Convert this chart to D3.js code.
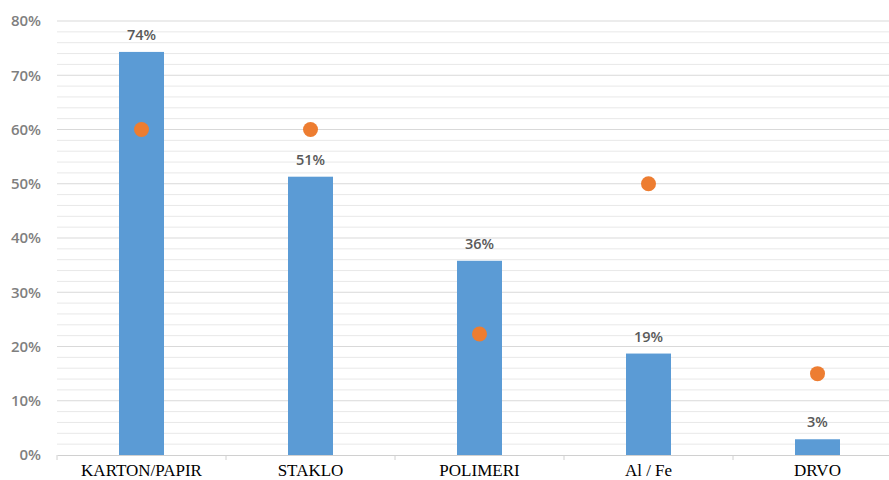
<!DOCTYPE html>
<html><head><meta charset="utf-8">
<script src="https://cdn.jsdelivr.net/npm/d3@7"></script>
<style>body{margin:0;background:#fff;}svg{display:block;}</style>
</head><body>
<svg id="c" width="889" height="480"></svg>
<script>
const categories = ["KARTON/PAPIR", "STAKLO", "POLIMERI", "Al / Fe", "DRVO"];
const barValues = [74.3, 51.3, 35.8, 18.7, 2.9];
const barLabels = ["74%", "51%", "36%", "19%", "3%"];
const dotValues = [60, 60, 22.3, 50, 15];
const yTicks = [0, 10, 20, 30, 40, 50, 60, 70, 80];

const svg = d3.select("#c");
const plotLeft = 57, plotRight = 902, plotTop = 21, plotBottom = 455;
const x = d3.scaleBand().domain(categories).range([plotLeft, plotRight]).paddingInner(0).paddingOuter(0);
const y = d3.scaleLinear().domain([0, 80]).range([plotBottom, plotTop]);

// minor gridlines
const minor = d3.range(0, 81, 2).filter(v => v % 10 !== 0);
svg.append("g").selectAll("line").data(minor).join("line")
  .attr("x1", plotLeft).attr("x2", plotRight).attr("y1", d => y(d)).attr("y2", d => y(d))
  .attr("stroke", "#e8e8e8").attr("stroke-width", 1);
// major gridlines
svg.append("g").selectAll("line").data(yTicks.filter(v => v > 0)).join("line")
  .attr("x1", plotLeft).attr("x2", plotRight).attr("y1", d => y(d)).attr("y2", d => y(d))
  .attr("stroke", "#d9d9d9").attr("stroke-width", 1);

// y axis labels
const yAxis = d3.axisLeft(y).tickValues(yTicks).tickFormat(d => d + "%").tickSize(0).tickPadding(16);
const ya = svg.append("g").attr("transform", `translate(${plotLeft},0)`).call(yAxis);
ya.select(".domain").remove();
ya.selectAll("text").attr("fill", "#7f7f7f").attr("font-family", "'Open Sans', sans-serif")
  .attr("font-size", 15).attr("font-weight", 600);

// x axis
const xa = svg.append("g").attr("transform", `translate(0,${plotBottom})`)
  .call(d3.axisBottom(x).tickSize(0).tickPadding(9));
xa.select(".domain").attr("stroke", "#d0d0d0");
xa.selectAll("text").attr("fill", "#000").attr("font-family", "'Liberation Serif', 'Times New Roman', serif")
  .attr("font-size", 17);
// boundary tick marks
svg.append("g").selectAll("line").data(categories).join("line")
  .attr("x1", d => x(d)).attr("x2", d => x(d)).attr("y1", plotBottom).attr("y2", plotBottom + 5)
  .attr("stroke", "#d0d0d0");

const bw = 45;
// bars
svg.append("g").selectAll("rect").data(categories).join("rect")
  .attr("x", d => x(d) + x.bandwidth() / 2 - bw / 2)
  .attr("width", bw)
  .attr("y", (d, i) => y(barValues[i]))
  .attr("height", (d, i) => plotBottom - y(barValues[i]))
  .attr("fill", "#5b9bd5");

// bar labels
svg.append("g").selectAll("text").data(categories).join("text")
  .attr("x", d => x(d) + x.bandwidth() / 2)
  .attr("y", (d, i) => y(barValues[i]) - 12)
  .attr("text-anchor", "middle")
  .attr("fill", "#595959").attr("font-family", "'Open Sans', sans-serif")
  .attr("font-size", 14.5).attr("font-weight", 600)
  .text((d, i) => barLabels[i]);

// dots
svg.append("g").selectAll("circle").data(categories).join("circle")
  .attr("cx", d => x(d) + x.bandwidth() / 2)
  .attr("cy", (d, i) => y(dotValues[i]))
  .attr("r", 7.5)
  .attr("fill", "#ed7d31");
</script>
</body></html>
